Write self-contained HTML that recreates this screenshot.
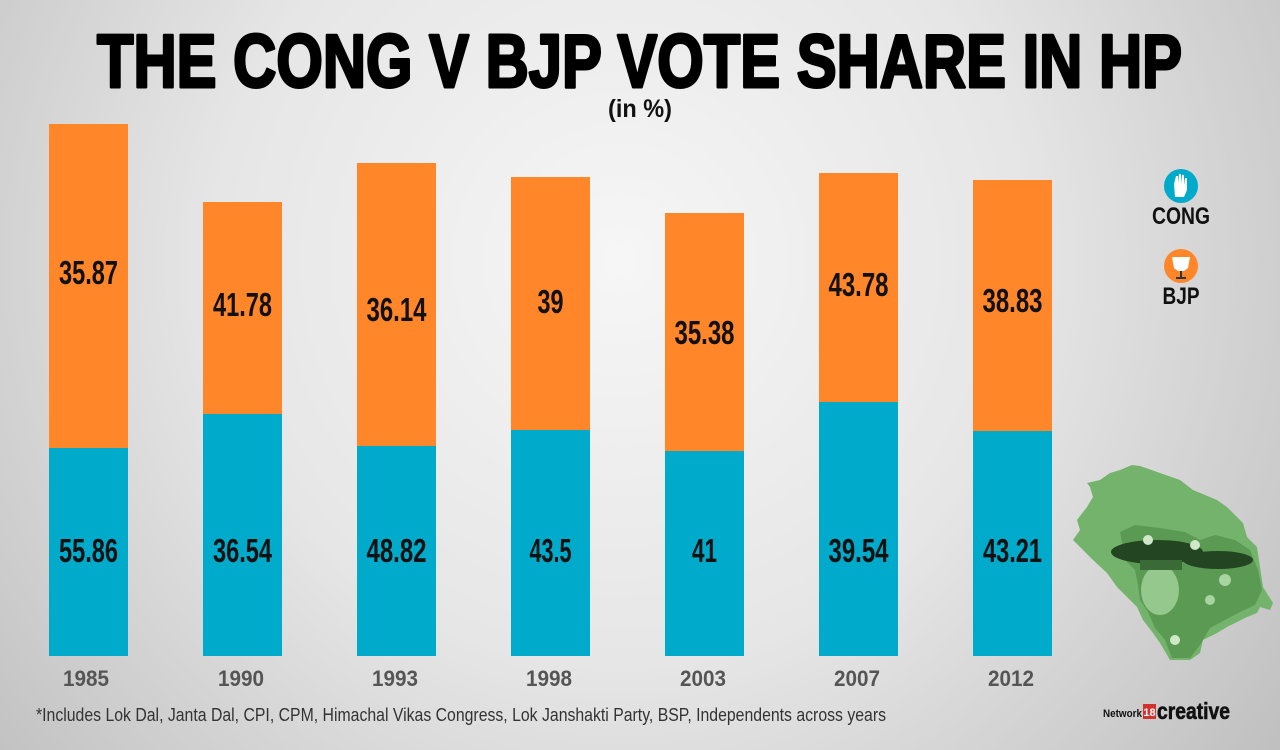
<!DOCTYPE html>
<html><head><meta charset="utf-8"><style>
html,body{margin:0;padding:0;width:1280px;height:750px;overflow:hidden;}
svg{display:block;}
</style></head><body>
<svg width="1280" height="750" viewBox="0 0 1280 750" xmlns="http://www.w3.org/2000/svg">
<defs>
<radialGradient id="bg" cx="620" cy="260" r="900" gradientUnits="userSpaceOnUse">
<stop offset="0" stop-color="#f6f6f6"/>
<stop offset="0.45" stop-color="#e6e6e6"/>
<stop offset="0.8" stop-color="#c9c9c9"/>
<stop offset="1" stop-color="#b8b8b8"/>
</radialGradient>
</defs>
<rect width="1280" height="750" fill="url(#bg)"/>

<!-- Title -->
<text x="97" y="87" font-family="Liberation Sans, sans-serif" font-weight="bold" font-size="75" fill="#000" stroke="#000" stroke-width="3" stroke-linejoin="round" textLength="1085" lengthAdjust="spacingAndGlyphs">THE CONG V BJP VOTE SHARE IN HP</text>
<text x="640" y="117" text-anchor="middle" font-family="Liberation Sans, sans-serif" font-weight="bold" font-size="25" fill="#111" textLength="64" lengthAdjust="spacingAndGlyphs">(in %)</text>

<!-- Bars -->
<g>
<rect x="49" y="124" width="79" height="324" fill="#FF8629"/>
<rect x="49" y="448" width="79" height="208" fill="#00AACB"/>
<rect x="203" y="202" width="79" height="212" fill="#FF8629"/>
<rect x="203" y="414" width="79" height="242" fill="#00AACB"/>
<rect x="357" y="163" width="79" height="283" fill="#FF8629"/>
<rect x="357" y="446" width="79" height="210" fill="#00AACB"/>
<rect x="511" y="177" width="79" height="253" fill="#FF8629"/>
<rect x="511" y="430" width="79" height="226" fill="#00AACB"/>
<rect x="665" y="213" width="79" height="238" fill="#FF8629"/>
<rect x="665" y="451" width="79" height="205" fill="#00AACB"/>
<rect x="819" y="173" width="79" height="229" fill="#FF8629"/>
<rect x="819" y="402" width="79" height="254" fill="#00AACB"/>
<rect x="973" y="180" width="79" height="251" fill="#FF8629"/>
<rect x="973" y="431" width="79" height="225" fill="#00AACB"/>
</g>

<!-- Value labels -->
<g font-family="Liberation Sans, sans-serif" font-weight="bold" font-size="33" fill="#111" text-anchor="middle">
<text x="88.5" y="284" textLength="59" lengthAdjust="spacingAndGlyphs">35.87</text>
<text x="242.5" y="316" textLength="59" lengthAdjust="spacingAndGlyphs">41.78</text>
<text x="396.5" y="321" textLength="60" lengthAdjust="spacingAndGlyphs">36.14</text>
<text x="550.5" y="313" textLength="26" lengthAdjust="spacingAndGlyphs">39</text>
<text x="704.5" y="344" textLength="60" lengthAdjust="spacingAndGlyphs">35.38</text>
<text x="858.5" y="296" textLength="60" lengthAdjust="spacingAndGlyphs">43.78</text>
<text x="1012.5" y="312" textLength="60" lengthAdjust="spacingAndGlyphs">38.83</text>

<text x="88.5" y="562" textLength="59" lengthAdjust="spacingAndGlyphs">55.86</text>
<text x="242.5" y="562" textLength="59" lengthAdjust="spacingAndGlyphs">36.54</text>
<text x="396.5" y="562" textLength="60" lengthAdjust="spacingAndGlyphs">48.82</text>
<text x="550.5" y="562" textLength="42" lengthAdjust="spacingAndGlyphs">43.5</text>
<text x="704.5" y="562" textLength="25" lengthAdjust="spacingAndGlyphs">41</text>
<text x="858.5" y="562" textLength="60" lengthAdjust="spacingAndGlyphs">39.54</text>
<text x="1012.5" y="562" textLength="59" lengthAdjust="spacingAndGlyphs">43.21</text>
</g>

<!-- Year labels -->
<g font-family="Liberation Sans, sans-serif" font-weight="bold" font-size="22" fill="#555" text-anchor="middle">
<text x="86" y="686" textLength="46" lengthAdjust="spacingAndGlyphs">1985</text>
<text x="241" y="686" textLength="46" lengthAdjust="spacingAndGlyphs">1990</text>
<text x="395" y="686" textLength="46" lengthAdjust="spacingAndGlyphs">1993</text>
<text x="549" y="686" textLength="46" lengthAdjust="spacingAndGlyphs">1998</text>
<text x="703" y="686" textLength="46" lengthAdjust="spacingAndGlyphs">2003</text>
<text x="857" y="686" textLength="46" lengthAdjust="spacingAndGlyphs">2007</text>
<text x="1011" y="686" textLength="46" lengthAdjust="spacingAndGlyphs">2012</text>
</g>

<!-- Footnote -->
<text x="36" y="721" font-family="Liberation Sans, sans-serif" font-size="18" fill="#333" textLength="850" lengthAdjust="spacingAndGlyphs">*Includes Lok Dal, Janta Dal, CPI, CPM, Himachal Vikas Congress, Lok Janshakti Party, BSP, Independents across years</text>

<!-- Legend -->
<circle cx="1181" cy="186" r="17" fill="#00AACB"/>
<path d="M1175 197 L1174 184 L1176 176 L1178 176 L1178 184 L1179 174 L1181 174 L1181 184 L1182 175 L1184 175 L1184 185 L1185 178 L1187 178 L1187 190 L1184 197 Z" fill="#fff"/>
<text x="1181" y="224" text-anchor="middle" font-family="Liberation Sans, sans-serif" font-weight="bold" font-size="24" fill="#111" textLength="58" lengthAdjust="spacingAndGlyphs">CONG</text>
<circle cx="1181" cy="266" r="17" fill="#FF8629"/>
<path d="M1172 257 L1190 257 L1188 268 L1184 271 L1178 271 L1174 268 Z" fill="#fff"/>
<rect x="1180" y="271" width="2" height="7" fill="#333"/>
<rect x="1176" y="277" width="10" height="2" fill="#333"/>
<text x="1181" y="304" text-anchor="middle" font-family="Liberation Sans, sans-serif" font-weight="bold" font-size="24" fill="#111" textLength="37" lengthAdjust="spacingAndGlyphs">BJP</text>

<!-- Map of HP -->
<path d="M1120 470 L1132 465 L1140 466 L1160 473 L1180 480 L1193 490 L1217 500 L1227 507 L1237 517 L1243 523 L1247 537 L1257 547 L1260 567 L1263 587 L1273 603 L1270 610 L1260 607 L1257 613 L1247 617 L1227 627 L1217 633 L1203 640 L1200 653 L1190 660 L1170 660 L1160 643 L1153 633 L1143 620 L1137 607 L1127 597 L1117 587 L1107 573 L1093 560 L1083 550 L1073 540 L1080 530 L1077 520 L1087 507 L1093 497 L1090 487 L1087 483 L1100 480 L1110 473 Z" fill="#74b36c"/>
<path d="M1120 532 L1135 525 L1160 528 L1185 532 L1200 540 L1215 535 L1235 540 L1250 550 L1258 570 L1262 590 L1255 605 L1240 612 L1225 620 L1210 628 L1200 645 L1190 658 L1172 658 L1165 640 L1155 628 L1148 612 L1140 600 L1138 585 L1135 570 L1125 560 Z" fill="#5a9a53"/>
<ellipse cx="1157" cy="552" rx="46" ry="12" fill="#244522"/>
<ellipse cx="1218" cy="560" rx="35" ry="9" fill="#244522"/>
<ellipse cx="1160" cy="590" rx="19" ry="25" fill="#94c88c"/>
<rect x="1140" y="560" width="42" height="10" fill="#3a6a35"/>
<circle cx="1148" cy="540" r="5" fill="#cfe8c8"/>
<circle cx="1195" cy="545" r="5" fill="#cfe8c8"/>
<circle cx="1225" cy="580" r="6" fill="#a8d49f"/>
<circle cx="1210" cy="600" r="5" fill="#a8d49f"/>
<circle cx="1175" cy="640" r="5" fill="#cfe8c8"/>

<!-- Logo -->
<text x="1103" y="717" font-family="Liberation Sans, sans-serif" font-weight="bold" font-size="11" fill="#111" textLength="39" lengthAdjust="spacingAndGlyphs">Network</text>
<rect x="1143" y="704" width="13" height="15" fill="#d2322d"/>
<text x="1149.5" y="716" text-anchor="middle" font-family="Liberation Sans, sans-serif" font-weight="bold" font-size="11" fill="#fff">18</text>
<text x="1157" y="719" font-family="Liberation Sans, sans-serif" font-weight="bold" font-size="23" fill="#111" stroke="#111" stroke-width="0.6" textLength="73" lengthAdjust="spacingAndGlyphs">creative</text>
</svg>
</body></html>
